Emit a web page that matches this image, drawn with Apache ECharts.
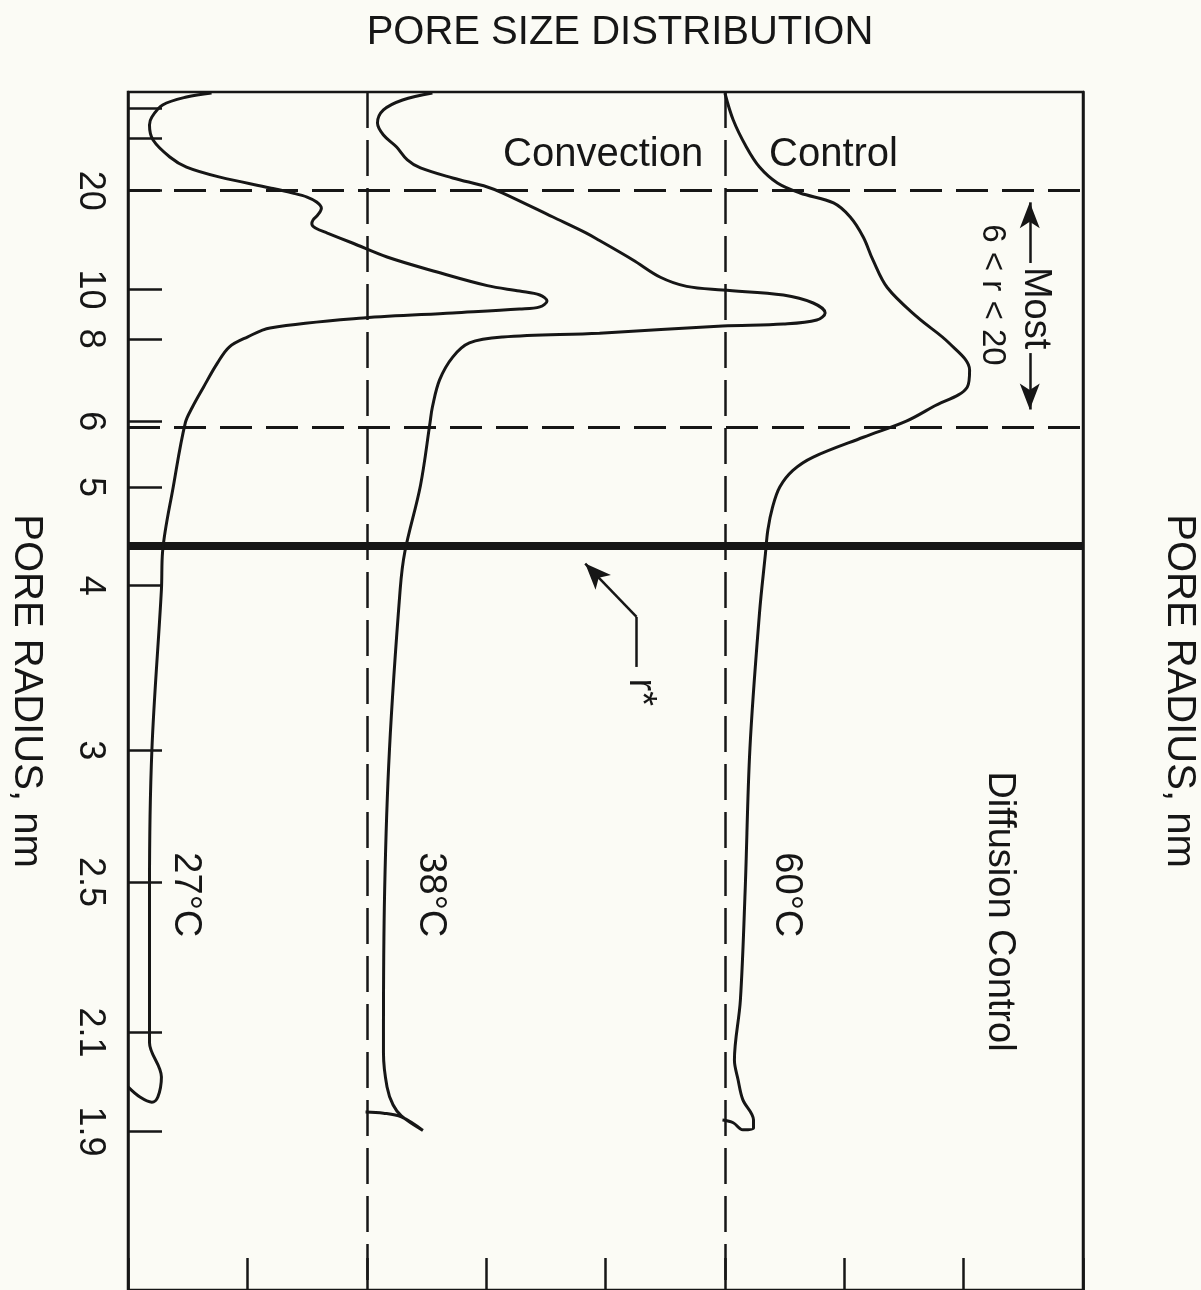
<!DOCTYPE html>
<html>
<head>
<meta charset="utf-8">
<title>Pore size distribution</title>
<script src="https://cdn.jsdelivr.net/npm/echarts@6/dist/echarts.min.js"></script>
<style>
  html, body { margin: 0; padding: 0; background: #fbfbf5; overflow: hidden; }
  #chart { width: 1201px; height: 1290px; }
</style>
</head>
<body>
<div id="chart"></div>
<script>
// pore radius (nm) going down each trace, and the trace's horizontal reading
// (27°C sits on 0, 38°C on 2, 60°C on 5)
var r27 = [1975, 395, 152, 79, 59.8, 41.1, 30.4, 26.3, 23.2, 20.6, 19.55, 18.8, 17.95, 17.0, 16.06, 15.43,
  14.96, 14.52, 14.0, 13.08, 11.97, 10.97, 10.2, 9.92, 9.73, 9.45, 9.19, 9.1, 8.94, 8.74, 8.37, 8.06,
  7.75, 7.29, 6.68, 6.27, 5.97, 5.01, 4.3, 3.97, 3.0, 2.48, 2.1, 2.078, 2.005, 1.965, 1.955, 1.965, 1.985];
var v27 = [0.70, 0.49, 0.29, 0.20, 0.18, 0.21, 0.35, 0.49, 0.77, 1.19, 1.38, 1.50, 1.58, 1.62, 1.59, 1.55,
  1.54, 1.57, 1.67, 1.88, 2.17, 2.59, 3.01, 3.28, 3.45, 3.51, 3.45, 3.28, 2.72, 1.97, 1.19, 1.00,
  0.85, 0.75, 0.63, 0.54, 0.48, 0.38, 0.29, 0.28, 0.20, 0.18, 0.18, 0.18, 0.28, 0.25, 0.20, 0.10, 0.0];

var r38 = [1975, 247, 110, 63.7, 45.9, 35.9, 29.1, 26.0, 22.97, 20.8, 19.55, 15.8, 14.0, 13.3, 11.76, 10.66,
  10.16, 9.97, 9.73, 9.36, 8.94, 8.66, 8.51, 8.44, 8.19, 8.06, 7.87, 7.45, 6.86, 6.27, 5.97, 5.02,
  4.3, 3.97, 3.0, 2.475, 2.1, 2.055, 1.985, 1.95, 1.929, 1.902, 1.927, 1.934, 1.936];
var v38 = [2.55, 2.30, 2.14, 2.09, 2.14, 2.25, 2.34, 2.45, 2.72, 3.01, 3.14, 3.56, 3.84, 3.95, 4.23, 4.46,
  4.68, 4.98, 5.49, 5.74, 5.84, 5.77, 5.49, 4.98, 3.95, 3.14, 2.86, 2.72, 2.61, 2.55, 2.53, 2.45,
  2.32, 2.28, 2.19, 2.15, 2.14, 2.14, 2.17, 2.22, 2.29, 2.47, 2.29, 2.14, 1.99];

var r60 = [1975, 70.5, 35.9, 26.3, 21.7, 19.55, 17.8, 15.8, 13.6, 11.76, 10.1, 8.78, 7.86, 7.10, 6.69, 6.27,
  6.0, 5.72, 5.41, 5.22, 5.0, 4.76, 4.51, 4.28, 3.79, 3.01, 2.475, 2.175, 2.04, 2.0, 1.96, 1.921,
  1.906, 1.903, 1.916, 1.921];
var v60 = [5.00, 5.07, 5.18, 5.29, 5.44, 5.63, 5.91, 6.05, 6.16, 6.24, 6.36, 6.61, 6.88, 7.05, 7.03, 6.74,
  6.52, 6.16, 5.74, 5.57, 5.46, 5.40, 5.36, 5.34, 5.29, 5.21, 5.17, 5.13, 5.08, 5.11, 5.15, 5.24,
  5.24, 5.15, 5.07, 4.98];

var radiusLabels = [20, 10, 8, 6, 5, 4, 3, 2.5, 2.1, 1.9];
var radiusTicks = [125, 43, 20, 10, 8, 6, 5, 4, 3, 2.5, 2.1, 1.9];
var baselines = [2, 5];          // dashed offsets of 38°C and 60°C
var bandLimits = [20, 6];        // "most" pores lie between these radii
var rStar = 4.3;

var ink = '#161616';
var font = '"Liberation Sans", Arial, Helvetica, sans-serif';

// the radius scale is linear in 1/r (pressure), large pores at the top
function inv(r) { return 1 / r; }
function pairs(rs, vs) { return rs.map(function (r, i) { return [vs[i], inv(r)]; }); }

var chart = echarts.init(document.getElementById('chart'));

var hDash = { type: [32, 14], width: 3, color: ink };
var vDash = { type: [36, 12], width: 2.5, color: ink };

var guideLines = bandLimits.map(function (r) { return { yAxis: inv(r), lineStyle: hDash }; })
  .concat(baselines.map(function (x) { return { xAxis: x, lineStyle: vDash }; }))
  .concat([
    { yAxis: inv(rStar), lineStyle: { type: 'solid', width: 8, color: ink } },
    // r* pointer
    [{ coord: [4.26, inv(3.435)] }, { coord: [4.26, inv(3.762)] }],
    [{ coord: [4.26, inv(3.762)] }, { coord: [3.83, inv(4.188)], symbol: 'arrow', symbolSize: [16, 26] }],
    // "Most" range arrows
    [{ coord: [7.554, inv(11.55)] }, { coord: [7.554, inv(17.9)], symbol: 'arrow', symbolSize: [15, 26] }],
    [{ coord: [7.554, inv(7.565)] }, { coord: [7.554, inv(6.22)], symbol: 'arrow', symbolSize: [15, 26] }]
  ]);

function curve(name, rs, vs, extra) {
  var s = {
    name: name,
    type: 'line',
    data: pairs(rs, vs),
    symbol: 'none',
    smooth: 0.35,
    lineStyle: { width: 3, color: ink },
    z: 3
  };
  if (extra) s.markLine = extra;
  return s;
}

chart.setOption({
  animation: false,
  backgroundColor: '#fbfbf5',
  title: {
    text: 'PORE SIZE DISTRIBUTION',
    left: 615,
    top: 8,
    textAlign: 'center',
    textStyle: { fontFamily: font, fontSize: 40, fontWeight: 'normal', color: ink }
  },
  grid: {
    left: 128, right: 118, top: 92, bottom: 0,
    outerBoundsMode: 'none',
    show: true, borderColor: ink, borderWidth: 2.5
  },
  xAxis: {
    type: 'value',
    position: 'bottom',
    min: 0, max: 8, interval: 1,
    axisLine: { show: true, onZero: false, lineStyle: { color: ink, width: 2.5 } },
    axisTick: { show: true, inside: true, length: 32, lineStyle: { color: ink, width: 2.5 } },
    axisLabel: { show: false },
    splitLine: { show: false }
  },
  yAxis: [{
    type: 'value',
    inverse: true,
    min: 0, max: 0.6066,
    name: 'PORE RADIUS, nm',
    nameLocation: 'middle',
    nameRotate: -90,
    nameGap: 82,
    nameTextStyle: { fontFamily: font, fontSize: 40, color: ink },
    axisLine: { show: true, onZero: false, lineStyle: { color: ink, width: 2.5 } },
    axisTick: {
      show: true, inside: true, length: 34,
      customValues: radiusTicks.map(inv),
      lineStyle: { color: ink, width: 2.5 }
    },
    axisLabel: {
      show: true,
      rotate: -90,
      margin: 20,
      customValues: radiusLabels.map(inv),
      fontFamily: font, fontSize: 36, color: ink,
      formatter: function (v) { return String(Math.round(10 / v) / 10); }
    },
    splitLine: { show: false }
  }, {
    type: 'value',
    inverse: true,
    position: 'right',
    min: 0, max: 0.6066,
    name: 'PORE RADIUS, nm',
    nameLocation: 'middle',
    nameRotate: -90,
    nameGap: 76,
    nameTextStyle: { fontFamily: font, fontSize: 40, color: ink },
    axisLine: { show: true, onZero: false, lineStyle: { color: ink, width: 2.5 } },
    axisTick: { show: false },
    axisLabel: { show: false },
    splitLine: { show: false }
  }],
  series: [
    curve('27°C', r27, v27, {
      silent: true,
      symbol: ['none', 'none'],
      label: { show: false },
      lineStyle: { color: ink, width: 2.5, type: 'solid' },
      data: guideLines,
      z: 2
    }),
    curve('38°C', r38, v38),
    curve('60°C', r60, v60)
  ]
});

// text notes, anchored in chart coordinates: [x, radius]
var notes = [
  { text: 'Convection', at: [3.98, 31.3], size: 40, rot: 0 },
  { text: 'Control', at: [5.91, 31.3], size: 40, rot: 0 },
  { text: 'Diffusion Control', at: [7.30, 2.41], size: 38, rot: -90 },
  { text: '27°C', at: [0.48, 2.46], size: 38, rot: -90 },
  { text: '38°C', at: [2.53, 2.46], size: 38, rot: -90 },
  { text: '60°C', at: [5.52, 2.46], size: 38, rot: -90 },
  { text: 'r*', at: [4.29, 3.29], size: 38, rot: -90 },
  { text: 'Most', at: [7.60, 9.14], size: 38, rot: -90 },
  { text: '6 < r < 20', at: [7.24, 9.73], size: 33, rot: -90 }
];

chart.setOption({
  graphic: notes.map(function (n) {
    var p = chart.convertToPixel({ gridIndex: 0 }, [n.at[0], inv(n.at[1])]);
    return {
      type: 'text',
      x: p[0], y: p[1],
      rotation: n.rot * Math.PI / 180,
      z: 10,
      style: {
        text: n.text,
        fill: ink,
        font: n.size + 'px ' + font,
        align: 'center',
        verticalAlign: 'middle'
      }
    };
  })
});
</script>
</body>
</html>
